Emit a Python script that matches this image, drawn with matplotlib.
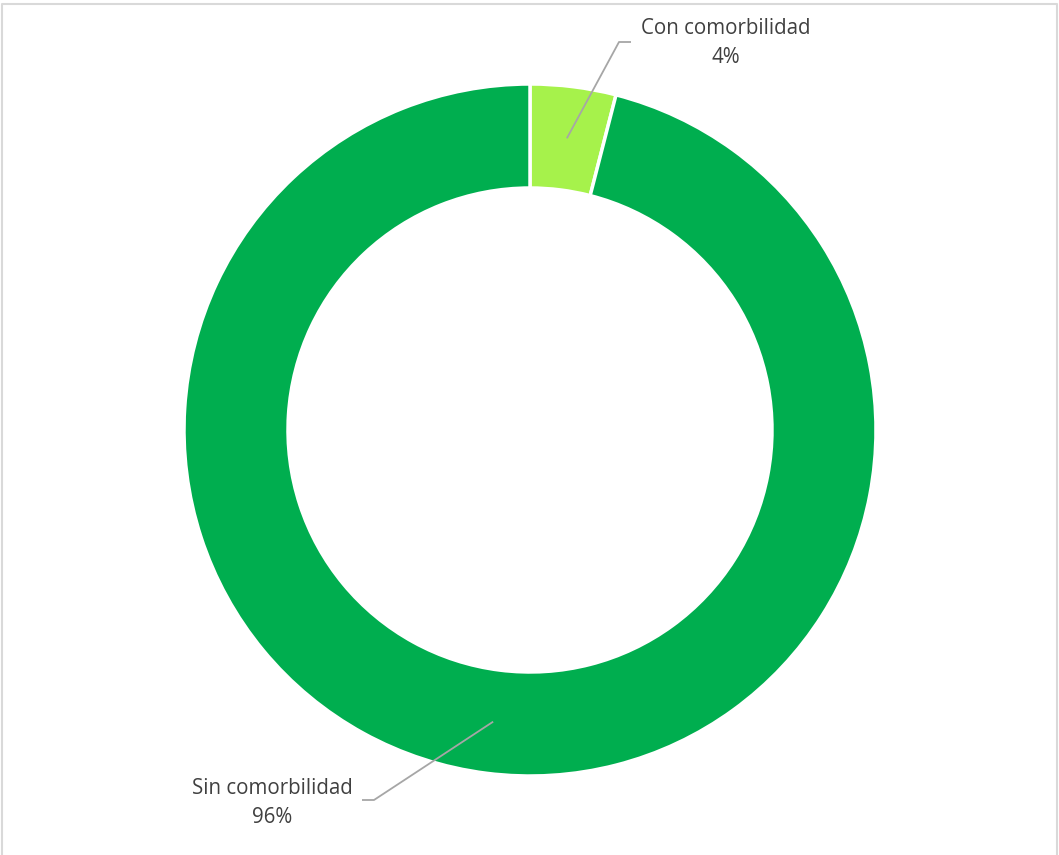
import numpy as np
import matplotlib
matplotlib.use("Agg")
from matplotlib import pyplot as plt

labels = ["Con comorbilidad", "Sin comorbilidad"]
values = [4, 96]
colors = ["#A6F24B", "#00AE4F"]

W, H = 1059, 855
fig = plt.figure(figsize=(W / 100, H / 100), dpi=100)
ax = fig.add_axes([0, 0, 1, 1])

cx, cy = 530, H - 430
r_out, ring = 346, 104

wedges, _ = ax.pie(values, colors=colors, startangle=90, counterclock=False,
                   center=(cx, cy), radius=r_out, frame=True,
                   wedgeprops=dict(width=ring, edgecolor="white", linewidth=2.5))
ax.set_xlim(0, W)
ax.set_ylim(0, H)
ax.set_aspect("equal")
ax.axis("off")

# label boxes: text centre and leader elbow / end
label_pos = [(726, H - 43, (619, H - 42), (631, H - 42)),
             (272, H - 803, (374, H - 800), (362, H - 800))]

r_mid = r_out - ring / 2
for w, lab, v, (tx, ty, elbow, end) in zip(wedges, labels, values, label_pos):
    ang = np.deg2rad((w.theta1 + w.theta2) / 2)
    sx, sy = cx + r_mid * np.cos(ang), cy + r_mid * np.sin(ang)
    ax.plot([sx, elbow[0], end[0]], [sy, elbow[1], end[1]], color="#A6A6A6", lw=1.3,
            solid_capstyle="butt")
    ax.text(tx, ty, f"{lab}\n{v}%", ha="center", va="center", fontsize=14.8,
            family="Open Sans", color="#404040", linespacing=1.45)

# chart area border
ax.plot([2, 2, W - 2, W - 2], [0, H - 4, H - 4, 0], color="#D9D9D9", lw=1.5)

fig.savefig("out.png", dpi=100)
